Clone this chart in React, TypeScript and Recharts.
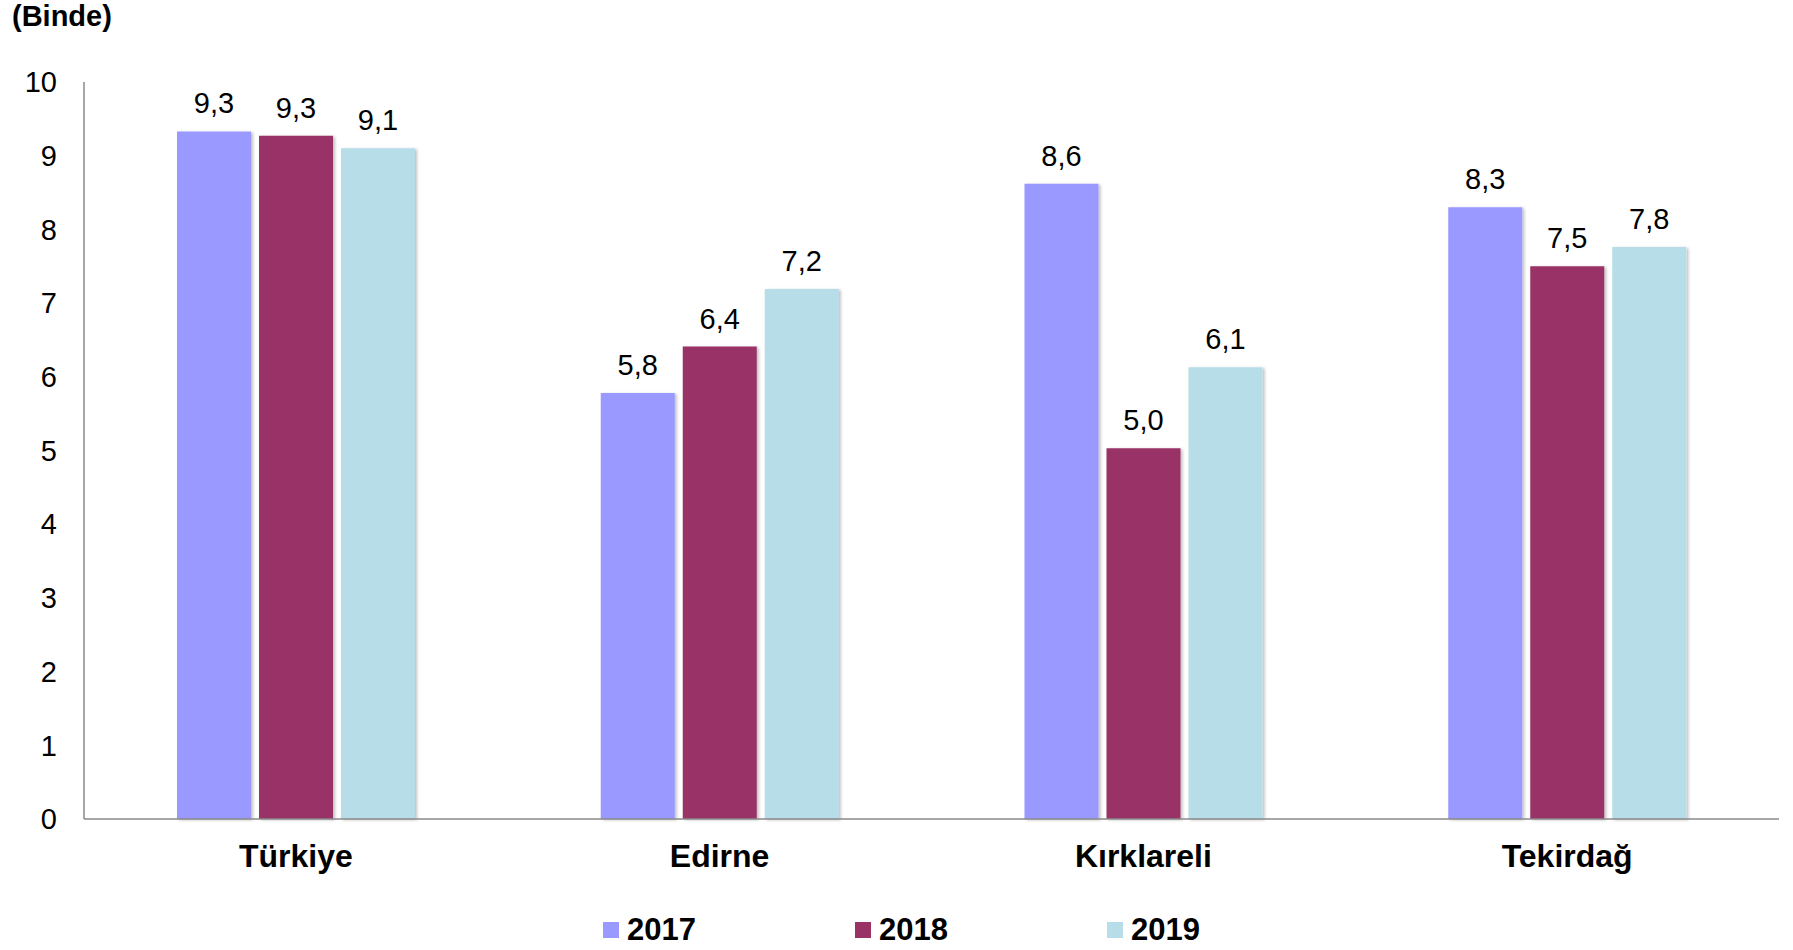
import { BarChart, Bar, XAxis, YAxis, LabelList, Legend } from "recharts";

const regions = ["Türkiye", "Edirne", "Kırklareli", "Tekirdağ"];
const values2017 = [9.33, 5.78, 8.62, 8.3];
const values2018 = [9.27, 6.41, 5.03, 7.5];
const values2019 = [9.1, 7.19, 6.13, 7.76];
const yTicks = [0, 1, 2, 3, 4, 5, 6, 7, 8, 9, 10];

const series = [
  { key: "y2017", name: "2017", color: "#9999FF" },
  { key: "y2018", name: "2018", color: "#993366" },
  { key: "y2019", name: "2019", color: "#B7DDE8" },
];

const data = regions.map((region, i) => ({
  region,
  y2017: values2017[i],
  y2018: values2018[i],
  y2019: values2019[i],
}));

const FONT = "'Liberation Sans', Arial, sans-serif";
const AXIS = "#8a8a8a";

const fmt = (v: number) => Number(v).toFixed(1).replace(".", ",");

function LegendContent() {
  return (
    <div style={{ display: "flex", paddingLeft: 603, height: 40, alignItems: "center" }}>
      {series.map((s) => (
        <div key={s.key} style={{ width: 252, display: "flex", alignItems: "center" }}>
          <span style={{ width: 16, height: 16, background: s.color, display: "inline-block", marginRight: 8 }} />
          <span style={{ fontFamily: FONT, fontWeight: "bold", fontSize: 31, color: "#000" }}>{s.name}</span>
        </div>
      ))}
    </div>
  );
}

export default function App() {
  return (
    <div style={{ position: "absolute", left: 0, top: 0, width: 1793, height: 950, background: "#fff", fontFamily: FONT }}>
      <div style={{ position: "absolute", left: 12, top: 0, fontSize: 29, fontWeight: "bold", color: "#000" }}>(Binde)</div>
      <BarChart
        width={1793}
        height={950}
        data={data}
        margin={{ top: 82, right: 14, left: 24, bottom: 0 }}
        barSize={74}
        barGap={8}
      >
        <defs>
          <filter id="barShadow" x="-10%" y="-10%" width="130%" height="130%">
            <feDropShadow dx="2" dy="1" stdDeviation="1.5" floodColor="#000" floodOpacity="0.25" />
          </filter>
        </defs>
        <XAxis
          dataKey="region"
          height={91}
          tickSize={0}
          tickMargin={25}
          axisLine={{ stroke: AXIS, strokeWidth: 1.5 }}
          tickLine={false}
          tick={{ fill: "#000", fontSize: 32, fontWeight: "bold", fontFamily: FONT }}
        />
        <YAxis
          width={60}
          domain={[0, 10]}
          ticks={yTicks}
          interval={0}
          tickSize={0}
          tickMargin={27}
          axisLine={{ stroke: AXIS, strokeWidth: 1.5 }}
          tickLine={false}
          tick={{ fill: "#000", fontSize: 29, fontFamily: FONT }}
        />
        <Legend
          verticalAlign="bottom"
          content={<LegendContent />}
          wrapperStyle={{ left: 0, width: 1793 }}
        />
        {series.map((s) => (
          <Bar
            key={s.key}
            dataKey={s.key}
            name={s.name}
            fill={s.color}
            filter="url(#barShadow)"
            isAnimationActive={false}
          >
            <LabelList
              dataKey={s.key}
              position="top"
              offset={18}
              formatter={(v: any) => fmt(v)}
              style={{ fill: "#000", fontSize: 29, fontFamily: FONT }}
            />
          </Bar>
        ))}
      </BarChart>
    </div>
  );
}
